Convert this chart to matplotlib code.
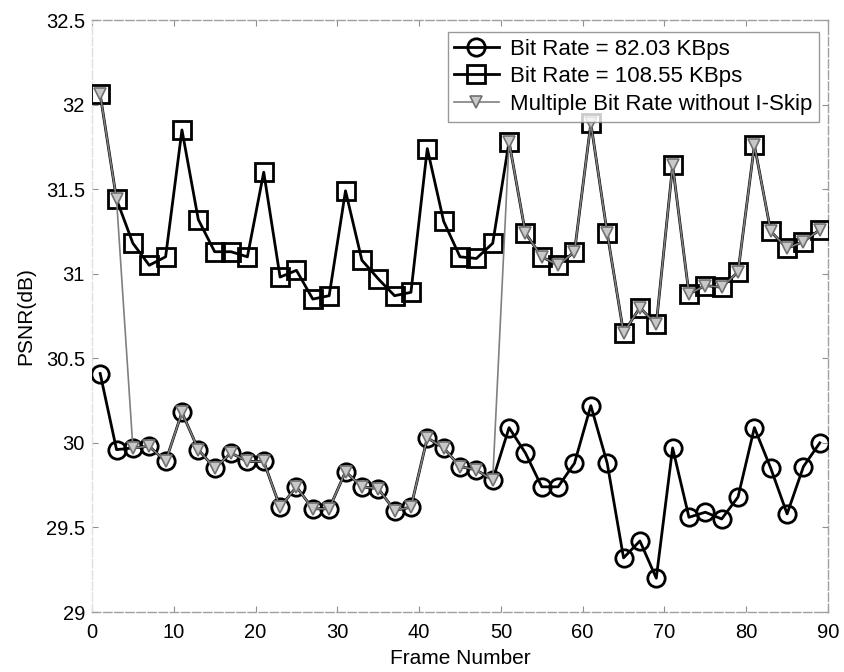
import matplotlib.pyplot as plt
from matplotlib.ticker import FuncFormatter

plt.rcParams['font.family'] = ['Liberation Sans', 'DejaVu Sans']

# Frame numbers (every other frame)
frames = list(range(1, 90, 2))

# PSNR per frame at 82.03 KBps
psnr_low = [30.41, 29.96, 29.97, 29.98, 29.89, 30.18, 29.96, 29.85, 29.94, 29.89,
            29.89, 29.62, 29.74, 29.61, 29.61, 29.83, 29.74, 29.73, 29.60, 29.62,
            30.03, 29.97, 29.86, 29.84, 29.78, 30.09, 29.94, 29.74, 29.74, 29.88,
            30.22, 29.88, 29.32, 29.42, 29.20, 29.97, 29.56, 29.59, 29.55, 29.68,
            30.09, 29.85, 29.58, 29.86, 30.00]

# PSNR per frame at 108.55 KBps
psnr_high = [32.06, 31.44, 31.18, 31.05, 31.10, 31.85, 31.32, 31.13, 31.13, 31.10,
             31.60, 30.98, 31.02, 30.85, 30.87, 31.49, 31.08, 30.97, 30.87, 30.89,
             31.74, 31.31, 31.10, 31.09, 31.18, 31.78, 31.24, 31.10, 31.05, 31.13,
             31.89, 31.24, 30.65, 30.80, 30.70, 31.64, 30.88, 30.93, 30.92, 31.01,
             31.76, 31.25, 31.15, 31.19, 31.26]

# PSNR when switching bit rate without I-Skip
psnr_multi = [32.06, 31.44, 29.97, 29.98, 29.89, 30.18, 29.96, 29.85, 29.94, 29.89,
              29.89, 29.62, 29.74, 29.61, 29.61, 29.83, 29.74, 29.73, 29.60, 29.62,
              30.03, 29.97, 29.86, 29.84, 29.78, 31.78, 31.24, 31.10, 31.05, 31.13,
              31.89, 31.24, 30.65, 30.80, 30.70, 31.64, 30.88, 30.93, 30.92, 31.01,
              31.76, 31.25, 31.15, 31.19, 31.26]

fig = plt.figure(figsize=(8.44, 6.72), dpi=100)
ax = fig.add_axes([92 / 844, 1 - 612 / 672, 736 / 844, 592 / 672])

ax.plot(frames, psnr_low, color='black', linewidth=2, marker='o', markersize=12.5,
        markerfacecolor='none', markeredgewidth=2, label='Bit Rate = 82.03 KBps', zorder=3)
ax.plot(frames, psnr_high, color='black', linewidth=2, marker='s', markersize=12.5,
        markerfacecolor='none', markeredgewidth=2, label='Bit Rate = 108.55 KBps', zorder=3)
ax.plot(frames, psnr_multi, color='#808080', linewidth=1.2, marker='v', markersize=9,
        markerfacecolor='#c8c8c8', markeredgecolor='#707070', markeredgewidth=1.2,
        label='Multiple Bit Rate without I-Skip', zorder=4)

ax.set_xlim(0, 90)
ax.set_ylim(29, 32.5)
ax.set_xticks(range(0, 91, 10))
ax.set_yticks([29, 29.5, 30, 30.5, 31, 31.5, 32, 32.5])
ax.yaxis.set_major_formatter(FuncFormatter(lambda v, p: '%g' % v))

ax.tick_params(direction='in', length=4, color='#909090', labelsize=14.5)
ax.tick_params(axis='x', pad=8)
ax.tick_params(axis='y', pad=5)
ax.tick_params(top=True, right=True)
for side in ['top', 'bottom', 'right', 'left']:
    ax.spines[side].set_color('#a0a0a0')
    ax.spines[side].set_linestyle((0, (6, 2)))
    ax.spines[side].set_linewidth(1)
ax.spines['left'].set_color('#e0e0e0')

ax.set_xlabel('Frame Number', fontsize=15, labelpad=5)
ax.set_ylabel('PSNR(dB)', fontsize=15, labelpad=8)

leg = ax.legend(loc='upper right', bbox_to_anchor=(0.9875, 0.98), fontsize=16,
                frameon=True, fancybox=False, handlelength=2.0, handletextpad=0.5,
                borderpad=0.3, labelspacing=0.3, borderaxespad=0)
leg.get_frame().set_edgecolor('#808080')
leg.get_frame().set_linewidth(1)

fig.savefig('out.png', dpi=100)
